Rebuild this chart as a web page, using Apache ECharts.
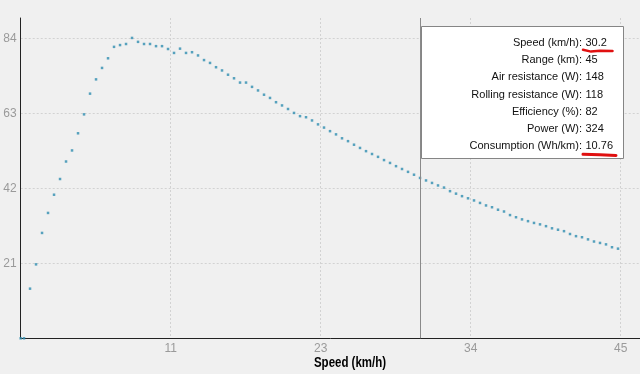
<!DOCTYPE html>
<html>
<head>
<meta charset="utf-8">
<script src="https://cdn.jsdelivr.net/npm/echarts@6/dist/echarts.min.js"></script>
<style>
html,body{margin:0;padding:0;background:#f0f0f0;}
#chart{width:640px;height:374px;}
</style>
</head>
<body>
<div id="chart"></div>
<script>
// Speed (km/h)
var speeds = [0, 0.25, 0.7, 1.15, 1.6, 2.05, 2.5, 2.95, 3.4, 3.85, 4.3, 4.75, 5.2, 5.65, 6.1, 6.55, 7.0, 7.45, 7.9, 8.35, 8.8, 9.25,
  9.7, 10.15, 10.6, 11.05, 11.5, 11.95, 12.4, 12.85, 13.3, 13.75, 14.2, 14.65, 15.1, 15.55, 16.0, 16.45, 16.9, 17.35, 17.8, 18.25,
  18.7, 19.15, 19.6, 20.05, 20.5, 20.95, 21.4, 21.85, 22.3, 22.75, 23.2, 23.65, 24.1, 24.55, 25.0, 25.45, 25.9, 26.35, 26.8, 27.25,
  27.7, 28.15, 28.6, 29.05, 29.5, 29.95, 30.4, 30.85, 31.3, 31.75, 32.2, 32.65, 33.1, 33.55, 34.0, 34.45, 34.9, 35.35, 35.8, 36.25,
  36.7, 37.15, 37.6, 38.05, 38.5, 38.95, 39.4, 39.85, 40.3, 40.75, 41.2, 41.65, 42.1, 42.55, 43.0, 43.45, 43.9, 44.35, 44.8];
// Range (km)
var ranges = [0, 0, 13.9, 20.7, 29.5, 35.1, 40.2, 44.6, 49.5, 52.6, 57.4, 62.7, 68.5, 72.5, 75.7, 78.4, 81.6, 82.1, 82.4, 84.1,
  83.0, 82.4, 82.4, 81.8, 81.8, 81.0, 79.9, 81.1, 79.9, 80.1, 79.2, 77.9, 77.1, 75.9, 75.0, 73.8, 72.8, 71.6, 71.6, 70.4,
  69.4, 68.2, 67.3, 66.1, 65.2, 64.2, 63.1, 62.2, 61.9, 61.0, 59.9, 59.0, 58.0, 57.1, 56.0, 55.2, 54.2, 53.3, 52.4, 51.6,
  50.8, 49.9, 49.1, 48.2, 47.4, 46.6, 45.8, 44.9, 44.2, 43.5, 42.8, 42.2, 41.2, 40.5, 39.8, 39.2, 38.6, 37.9, 37.2, 36.7,
  36.0, 35.5, 34.5, 33.9, 33.3, 32.8, 32.3, 31.9, 31.4, 30.8, 30.4, 30.0, 29.2, 28.6, 28.3, 27.7, 27.1, 26.7, 26.3, 25.5, 25.1];
var cursorSpeed = 30;
var infoLabels = ['Speed (km/h):', 'Range (km):', 'Air resistance (W):', 'Rolling resistance (W):', 'Efficiency (%):', 'Power (W):', 'Consumption (Wh/km):'];
var infoValues = ['30.2', '45', '148', '118', '82', '324', '10.76'];
var xAxisTitle = 'Speed (km/h)';

var points = speeds.map(function (s, i) { return [s, ranges[i]]; });

var chart = echarts.init(document.getElementById('chart'), null, {renderer: 'canvas'});

var graphics = [];
graphics.push({
  type: 'rect', z: 100,
  shape: {x: 421.5, y: 26.5, width: 202, height: 132},
  style: {fill: '#ffffff', stroke: '#858585', lineWidth: 1}
});
infoLabels.forEach(function (t, i) {
  var y = 43 + i * 17.2;
  graphics.push({type: 'text', z: 101, x: 582, y: y,
    style: {text: t, fill: '#111', font: '11px "Liberation Sans", Arial, sans-serif', textAlign: 'right', textVerticalAlign: 'middle'}});
  graphics.push({type: 'text', z: 101, x: 585.5, y: y,
    style: {text: infoValues[i], fill: '#111', font: '11px "Liberation Sans", Arial, sans-serif', textAlign: 'left', textVerticalAlign: 'middle'}});
});
graphics.push({type: 'polyline', z: 102,
  shape: {points: [[583, 49.8], [591, 51.6], [600, 50.8], [612.5, 51]]},
  style: {stroke: '#e01010', lineWidth: 2.5, fill: null, lineCap: 'round'}});
graphics.push({type: 'polyline', z: 102,
  shape: {points: [[583, 154.2], [600, 154.8], [616, 155.4]]},
  style: {stroke: '#e01010', lineWidth: 3, fill: null, lineCap: 'round'}});
graphics.push({type: 'text', z: 50, x: 350, y: 363, scaleX: 0.82, originX: 0, originY: 0,
  style: {text: xAxisTitle, fill: '#000', font: 'bold 14px "Liberation Sans", Arial, sans-serif', textAlign: 'center', textVerticalAlign: 'middle'}});

chart.setOption({
  backgroundColor: '#f0f0f0',
  animation: false,
  grid: {left: 20.7, right: 0, top: 18, bottom: 35.7, containLabel: false},
  xAxis: {
    type: 'value', min: 0, max: 46.45, interval: 11.25,
    axisLine: {show: true, onZero: false, lineStyle: {color: '#222', width: 1}},
    axisTick: {show: false},
    axisLabel: {
      show: true, showMinLabel: false, showMaxLabel: false, margin: 4,
      color: '#9a9a9a', fontSize: 12, fontFamily: '"Liberation Sans", Arial, sans-serif',
      formatter: function (v) { return String(Math.round(v)); }
    },
    splitLine: {show: true, showMinLine: false, showMaxLine: false, lineStyle: {color: '#d2d2d2', type: [2, 2], width: 1}}
  },
  yAxis: {
    type: 'value', min: 0, max: 89.68, interval: 21,
    axisLine: {show: true, onZero: false, lineStyle: {color: '#222', width: 1}},
    axisTick: {show: false},
    axisLabel: {
      show: true, showMinLabel: false, showMaxLabel: false, margin: 4,
      color: '#9a9a9a', fontSize: 12, fontFamily: '"Liberation Sans", Arial, sans-serif'
    },
    splitLine: {show: true, showMinLine: false, showMaxLine: false, lineStyle: {color: '#d2d2d2', type: [2, 2], width: 1}}
  },
  series: [{
    type: 'scatter',
    data: points,
    symbol: 'rect',
    symbolSize: 2.5,
    itemStyle: {color: '#2f8db0'},
    silent: true,
    markLine: {
      silent: true, symbol: 'none', animation: false,
      label: {show: false},
      lineStyle: {color: '#8a8a8a', type: 'solid', width: 1},
      data: [{xAxis: cursorSpeed}]
    }
  }],
  graphic: graphics
});
</script>
</body>
</html>
